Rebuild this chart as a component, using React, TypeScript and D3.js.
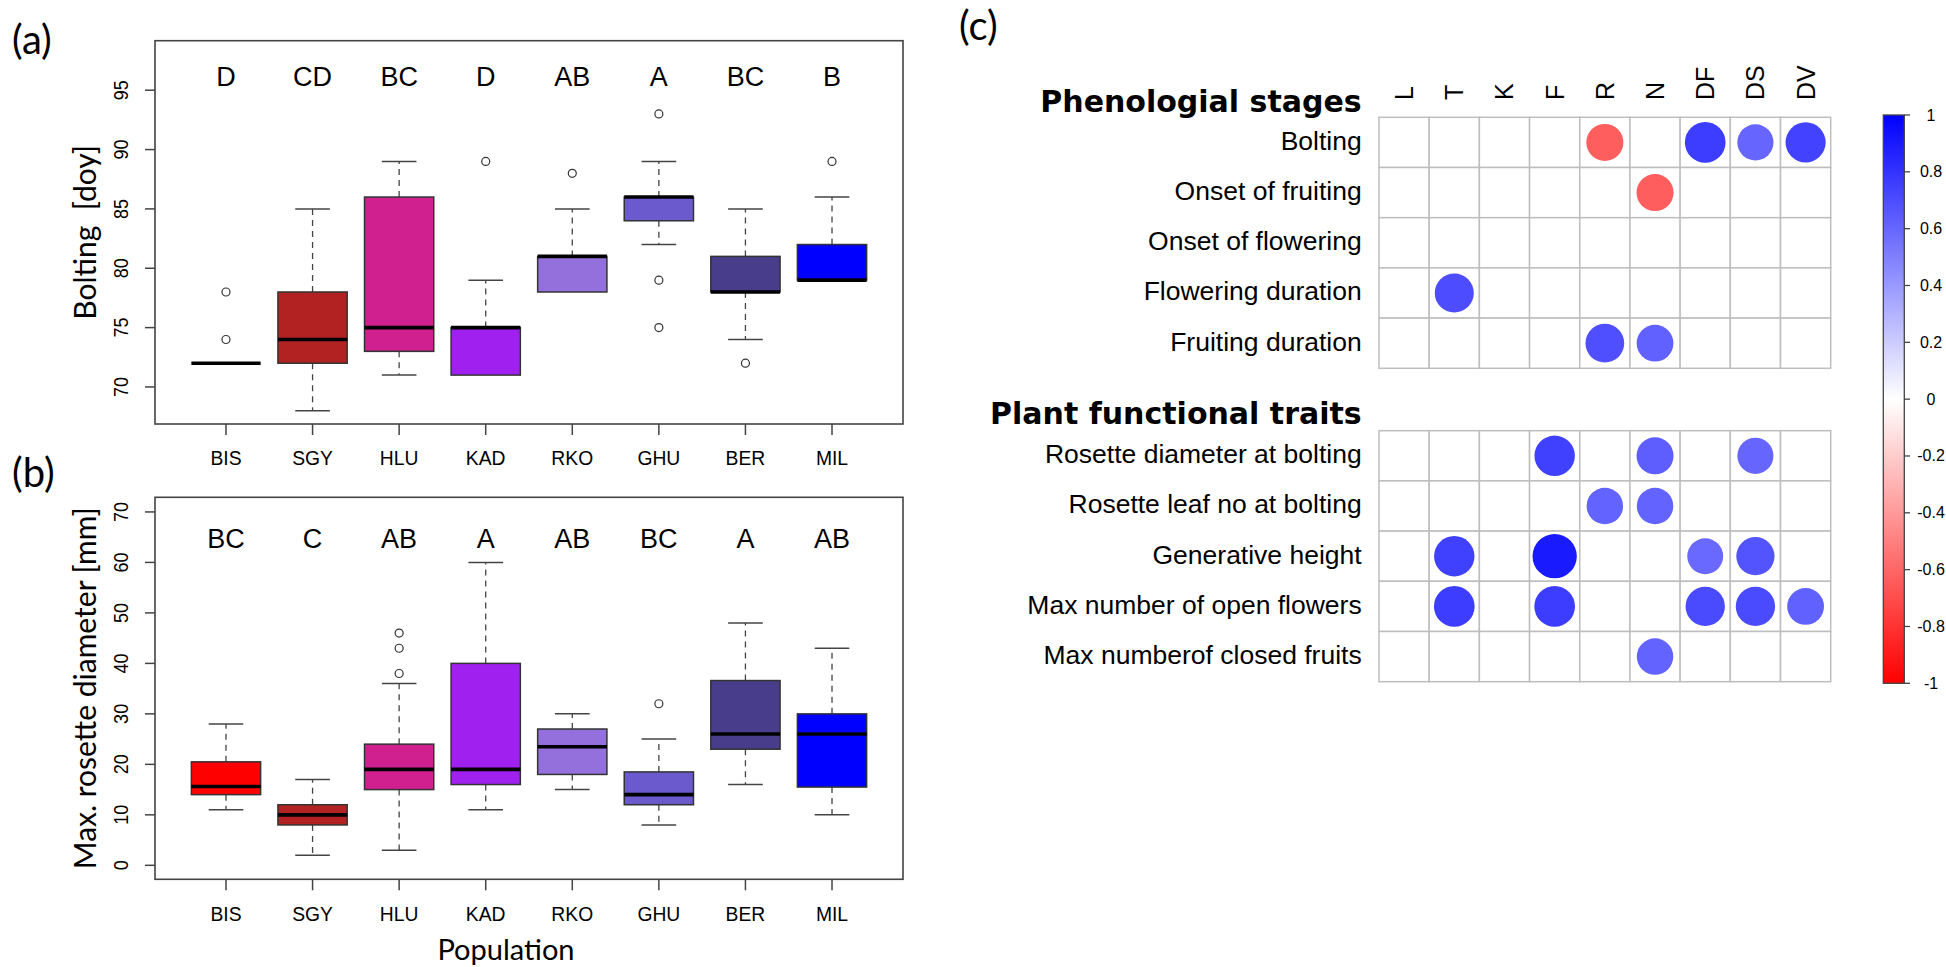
import React from "react";
import * as d3 from "d3";

// ---------- Data ----------
const populations = ["BIS", "SGY", "HLU", "KAD", "RKO", "GHU", "BER", "MIL"];
const popColors = ["#FF0000", "#B22222", "#D02090", "#A020F0", "#9370DB", "#6A5ACD", "#483D8B", "#0000FF"];

// Panel (a) Bolting [doy]
const boltLow = [72, 68, 71, 71, 78, 82, 74, 79];
const boltQ1 = [72, 72, 73, 71, 78, 84, 78, 79];
const boltMed = [72, 74, 75, 75, 81, 86, 78, 79];
const boltQ3 = [72, 78, 86, 75, 81, 86, 81, 82];
const boltHigh = [72, 85, 89, 79, 85, 89, 85, 86];
const boltOutliers = [[74, 78], [], [], [89], [88], [93, 79, 75], [72], [89]];
const boltLetters = ["D", "CD", "BC", "D", "AB", "A", "BC", "B"];
const boltTicks = [70, 75, 80, 85, 90, 95];

// Panel (b) Max. rosette diameter [mm]
const rosLow = [11, 2, 3, 11, 15, 8, 16, 10];
const rosQ1 = [14, 8, 15, 16, 18, 12, 23, 15.5];
const rosMed = [15.6, 10, 19, 19, 23.5, 14, 26, 26];
const rosQ3 = [20.5, 12, 24, 40, 27, 18.5, 36.6, 30];
const rosHigh = [28, 17, 36, 60, 30, 25, 48, 43];
const rosOutliers = [[], [], [46, 43, 38], [], [], [32], [], []];
const rosLetters = ["BC", "C", "AB", "A", "AB", "BC", "A", "AB"];
const rosTicks = [0, 10, 20, 30, 40, 50, 60, 70];

// Panel (c) correlations
const traitCols = ["L", "T", "K", "F", "R", "N", "DF", "DS", "DV"];
const phenoRows = ["Bolting", "Onset of fruiting", "Onset of flowering", "Flowering duration", "Fruiting duration"];
const phenoCorr = [
  [0, 0, 0, 0, -0.63, 0, 0.76, 0.6, 0.74],
  [0, 0, 0, 0, 0, -0.63, 0, 0, 0],
  [0, 0, 0, 0, 0, 0, 0, 0, 0],
  [0, 0.7, 0, 0, 0, 0, 0, 0, 0],
  [0, 0, 0, 0, 0.69, 0.62, 0, 0, 0],
];
const funcRows = [
  "Rosette diameter at bolting",
  "Rosette leaf no at bolting",
  "Generative height",
  "Max number of open flowers",
  "Max numberof closed fruits",
];
const funcCorr = [
  [0, 0, 0, 0.75, 0, 0.63, 0, 0.6, 0],
  [0, 0, 0, 0, 0.61, 0.61, 0, 0, 0],
  [0, 0.75, 0, 0.9, 0, 0, 0.59, 0.67, 0],
  [0, 0.76, 0, 0.76, 0, 0, 0.71, 0.71, 0.62],
  [0, 0, 0, 0, 0, 0.61, 0, 0, 0],
];
const legendTicks = [1, 0.8, 0.6, 0.4, 0.2, 0, -0.2, -0.4, -0.6, -0.8, -1];

// ---------- Styles ----------
const ARIAL = "'Liberation Sans', Arial, sans-serif";
const LATO = "Lato, 'Open Sans', sans-serif";
const AXIS = "#444";

type BoxPanelProps = {
  top: number;
  bottom: number;
  yDomain: [number, number];
  low: number[];
  q1: number[];
  med: number[];
  q3: number[];
  high: number[];
  outliers: number[][];
  letters: string[];
  letterY: number;
  ticks: number[];
  yTitle: string;
};

function BoxPanel(p: BoxPanelProps) {
  const left = 155;
  const right = 903;
  const x = d3.scaleLinear().domain([0.18, populations.length + 0.82]).range([left, right]);
  const y = d3.scaleLinear().domain(p.yDomain).range([p.bottom, p.top]);
  const unit = x(2) - x(1);
  const bw = unit * 0.8;
  const cw = bw / 2;
  return (
    <g>
      {populations.map((name, i) => {
        const cx = x(i + 1);
        return (
          <g key={name}>
            {p.high[i] > p.q3[i] && (
              <line x1={cx} x2={cx} y1={y(p.q3[i])} y2={y(p.high[i])} stroke={AXIS} strokeWidth={1.3} strokeDasharray="6,5" />
            )}
            {p.low[i] < p.q1[i] && (
              <line x1={cx} x2={cx} y1={y(p.q1[i])} y2={y(p.low[i])} stroke={AXIS} strokeWidth={1.3} strokeDasharray="6,5" />
            )}
            {p.high[i] > p.q3[i] && (
              <line x1={cx - cw / 2} x2={cx + cw / 2} y1={y(p.high[i])} y2={y(p.high[i])} stroke={AXIS} strokeWidth={1.5} />
            )}
            {p.low[i] < p.q1[i] && (
              <line x1={cx - cw / 2} x2={cx + cw / 2} y1={y(p.low[i])} y2={y(p.low[i])} stroke={AXIS} strokeWidth={1.5} />
            )}
            {p.q3[i] > p.q1[i] && (
              <rect
                x={cx - bw / 2}
                width={bw}
                y={y(p.q3[i])}
                height={y(p.q1[i]) - y(p.q3[i])}
                fill={popColors[i]}
                stroke="#333"
                strokeWidth={1.5}
              />
            )}
            <line x1={cx - bw / 2} x2={cx + bw / 2} y1={y(p.med[i])} y2={y(p.med[i])} stroke="#000" strokeWidth={3.6} />
            {p.outliers[i].map((o, j) => (
              <circle key={j} cx={cx} cy={y(o)} r={4} fill="none" stroke="#333" strokeWidth={1.2} />
            ))}
            <text
              x={cx}
              y={y(p.letterY)}
              textAnchor="middle"
              dominantBaseline="central"
              fontFamily={ARIAL}
              fontSize={27}
              fill="#000"
            >
              {p.letters[i]}
            </text>
            <line x1={cx} x2={cx} y1={p.bottom} y2={p.bottom + 11} stroke={AXIS} strokeWidth={1.5} />
            <text
              transform={`translate(${cx},${p.bottom + 34}) scale(0.92,1)`}
              textAnchor="middle"
              dominantBaseline="central"
              fontFamily={ARIAL}
              fontSize={21}
              fill="#000"
            >
              {name}
            </text>
          </g>
        );
      })}
      {p.ticks.map((t) => (
        <g key={t}>
          <line x1={left - 10} x2={left} y1={y(t)} y2={y(t)} stroke={AXIS} strokeWidth={1.5} />
          <text
            transform={`translate(${left - 34},${y(t)}) rotate(-90) scale(0.9,1)`}
            textAnchor="middle"
            dominantBaseline="central"
            fontFamily={ARIAL}
            fontSize={20}
            fill="#000"
          >
            {t}
          </text>
        </g>
      ))}
      <rect x={left} y={p.top} width={right - left} height={p.bottom - p.top} fill="none" stroke={AXIS} strokeWidth={1.6} />
      <text
        transform={`translate(84,${(p.top + p.bottom) / 2}) rotate(-90)`}
        textAnchor="middle"
        dominantBaseline="central"
        fontFamily={LATO}
        fontSize={30}
        fill="#000"
        style={{ whiteSpace: "pre" }}
      >
        {p.yTitle}
      </text>
    </g>
  );
}

function CorrGrid({ rows, corr, top, heading, headingY }: { rows: string[]; corr: number[][]; top: number; heading: string; headingY: number }) {
  const xs = d3.scaleBand().domain(traitCols).range([1379, 1830.7]);
  const ys = d3.scaleBand().domain(rows).range([top, top + 251]);
  const cell = xs.bandwidth();
  const color = (v: number) =>
    v < 0 ? d3.interpolateRgb("#FF0000", "#FFFFFF")(1 + v) : d3.interpolateRgb("#FFFFFF", "#0000FF")(v);
  const rad = d3.scaleSqrt().domain([0, 1]).range([0, cell * 0.465]);
  return (
    <g>
      <text x={1361.7} y={headingY} textAnchor="end" fontFamily="'DejaVu Sans', Verdana, sans-serif" fontWeight="bold" fontSize={30} fill="#000">
        {heading}
      </text>
      {rows.map((r) => (
        <text
          key={r}
          x={1361.7}
          y={(ys(r) as number) + cell / 2 - 1.5}
          textAnchor="end"
          dominantBaseline="central"
          fontFamily={ARIAL}
          fontSize={26.5}
          fill="#000"
        >
          {r}
        </text>
      ))}
      {rows.map((r) =>
        traitCols.map((c) => (
          <rect key={r + c} x={xs(c)} y={ys(r)} width={cell} height={ys.bandwidth()} fill="#fff" stroke="#BEBEBE" strokeWidth={1.5} />
        ))
      )}
      {rows.map((r, i) =>
        traitCols.map((c, j) => {
          const v = corr[i][j];
          if (!v) return null;
          return (
            <circle
              key={"c" + r + c}
              cx={(xs(c) as number) + cell / 2}
              cy={(ys(r) as number) + ys.bandwidth() / 2}
              r={rad(Math.abs(v))}
              fill={color(v)}
            />
          );
        })
      )}
    </g>
  );
}

export default function App() {
  const xs = d3.scaleBand().domain(traitCols).range([1379, 1830.7]);
  const ly = d3.scaleLinear().domain([-1, 1]).range([683.3, 115]);
  return (
    <svg
      width={1946}
      height={967}
      style={{ position: "absolute", left: 0, top: 0, display: "block", background: "#fff" }}
    >
      <rect width={1946} height={967} fill="#fff" />
      {/* Panel labels */}
      <text x={12} y={39} dominantBaseline="central" fontFamily={LATO} fontSize={40} fill="#000">(a)</text>
      <text x={12} y={472} dominantBaseline="central" fontFamily={LATO} fontSize={40} fill="#000">(b)</text>
      <text x={959} y={25} dominantBaseline="central" fontFamily={LATO} fontSize={40} fill="#000">(c)</text>

      <BoxPanel
        top={40.7}
        bottom={424}
        yDomain={[66.88, 99.17]}
        low={boltLow}
        q1={boltQ1}
        med={boltMed}
        q3={boltQ3}
        high={boltHigh}
        outliers={boltOutliers}
        letters={boltLetters}
        letterY={96.1}
        ticks={boltTicks}
        yTitle={"Bolting\u00A0 [doy]"}
      />
      <BoxPanel
        top={497.3}
        bottom={879.3}
        yDomain={[-2.77, 72.9]}
        low={rosLow}
        q1={rosQ1}
        med={rosMed}
        q3={rosQ3}
        high={rosHigh}
        outliers={rosOutliers}
        letters={rosLetters}
        letterY={64.6}
        ticks={rosTicks}
        yTitle="Max. rosette diameter [mm]"
      />
      <text x={506} y={948} textAnchor="middle" dominantBaseline="central" fontFamily={LATO} fontSize={29} fill="#000">
        Population
      </text>

      {/* Panel (c) */}
      {traitCols.map((c) => (
        <text
          key={c}
          transform={`translate(${(xs(c) as number) + xs.bandwidth() / 2},100) rotate(-90)`}
          textAnchor="start"
          dominantBaseline="central"
          fontFamily={ARIAL}
          fontSize={25}
          fill="#000"
        >
          {c}
        </text>
      ))}
      <CorrGrid rows={phenoRows} corr={phenoCorr} top={117.3} heading="Phenologial stages" headingY={111.7} />
      <CorrGrid rows={funcRows} corr={funcCorr} top={430.7} heading="Plant functional traits" headingY={424.3} />

      {/* Color legend */}
      <defs>
        <linearGradient id="cbar" x1="0" y1="0" x2="0" y2="1">
          <stop offset="0" stopColor="#0000FF" />
          <stop offset="0.5" stopColor="#FFFFFF" />
          <stop offset="1" stopColor="#FF0000" />
        </linearGradient>
      </defs>
      <rect x={1883.3} y={ly(1)} width={21} height={ly(-1) - ly(1)} fill="url(#cbar)" stroke="#444" strokeWidth={1.3} />
      {legendTicks.map((t) => (
        <g key={t}>
          <line x1={1904.3} x2={1910} y1={ly(t)} y2={ly(t)} stroke="#444" strokeWidth={1.3} />
          <text x={1931} y={ly(t)} textAnchor="middle" dominantBaseline="central" fontFamily={ARIAL} fontSize={16} fill="#000">
            {String(t)}
          </text>
        </g>
      ))}
    </svg>
  );
}
